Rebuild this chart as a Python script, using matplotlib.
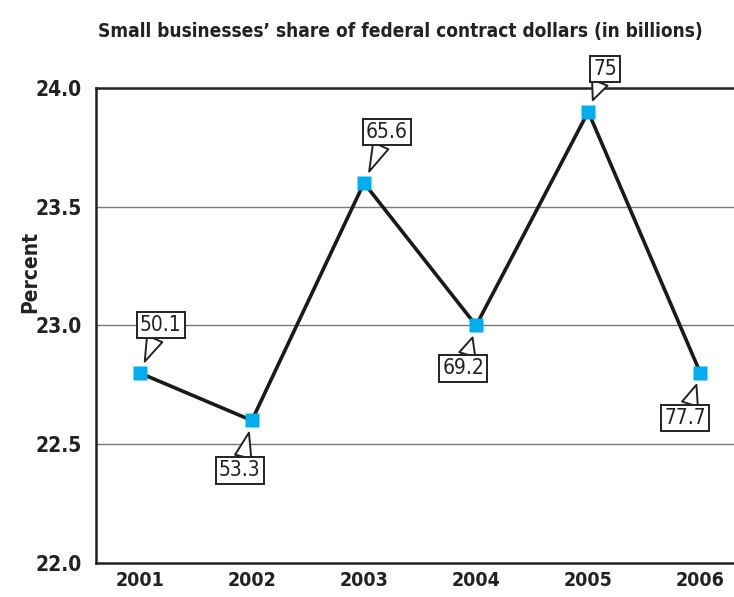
import matplotlib
matplotlib.use("Agg")
import matplotlib.pyplot as plt
from matplotlib import font_manager

# data
years = [2001, 2002, 2003, 2004, 2005, 2006]
share_pct = [22.8, 22.6, 23.6, 23.0, 23.9, 22.8]
dollars_bn = ["50.1", "53.3", "65.6", "69.2", "75", "77.7"]
# callout offsets in pixels (label centre relative to point)
offsets = [(21, 48), (-12, -50), (23, 51), (-13, -43), (17, 43), (-15, -45)]

cond = [f for f in font_manager.fontManager.ttflist
        if f.name == 'DejaVu Sans' and 'ondensed' in str(f.stretch)]
plt.rcParams['font.family'] = ['DejaVu Sans']
if cond:
    plt.rcParams['font.stretch'] = 'condensed'

fig = plt.figure(figsize=(7.34, 5.97), dpi=100)
ax = fig.add_axes([0.1308, 0.0570, 0.8692, 0.7956])

ax.set_xlim(2000.61, 2006.30)
ax.set_ylim(22.0, 24.0)

for yv in [22.5, 23.0, 23.5]:
    ax.axhline(yv, color='#777777', lw=1.0, zorder=1)
ax.axhline(24.0, color='#222222', lw=1.8, zorder=1, clip_on=False)

ax.plot(years, share_pct, color='#1a1a1a', lw=2.6, zorder=3)
ax.plot(years, share_pct, ls='none', marker='s', ms=9.5, mfc='#00aeef', mec='none', zorder=4)

for x, y, lab, (dx, dy) in zip(years, share_pct, dollars_bn, offsets):
    ax.annotate(lab, xy=(x, y), xytext=(dx, dy), textcoords='offset pixels',
                ha='center', va='center', fontsize=15 if cond else 14, color='#222222',
                bbox=dict(boxstyle='square,pad=0.15', fc='white', ec='#222222', lw=1.4),
                arrowprops=dict(arrowstyle='wedge,tail_width=0.8', fc='white', ec='#222222',
                                lw=1.4, shrinkA=0, shrinkB=9),
                zorder=5)

for side in ['top', 'right']:
    ax.spines[side].set_visible(False)
for side in ['left', 'bottom']:
    ax.spines[side].set_linewidth(1.8)
    ax.spines[side].set_color('#222222')

ax.set_xticks(years)
ax.set_xticklabels([str(y) for y in years], fontsize=14, fontweight='bold', color='#222222')
ax.set_yticks([22.0, 22.5, 23.0, 23.5, 24.0])
ax.set_yticklabels(['22.0', '22.5', '23.0', '23.5', '24.0'], fontsize=15, fontweight='bold', color='#222222')
ax.tick_params(axis='both', length=0)
ax.tick_params(axis='y', pad=10)
ax.tick_params(axis='x', pad=6)

fig.text(0.041, 0.545, 'Percent', rotation=90, ha='center', va='center',
         fontsize=15, fontweight='bold', color='#222222')
fig.text(0.546, 0.948, 'Small businesses\u2019 share of federal contract dollars (in billions)',
         ha='center', va='center', fontsize=13.7 if cond else 12, fontweight='bold', color='#222222')

fig.savefig('out.png', dpi=100)
